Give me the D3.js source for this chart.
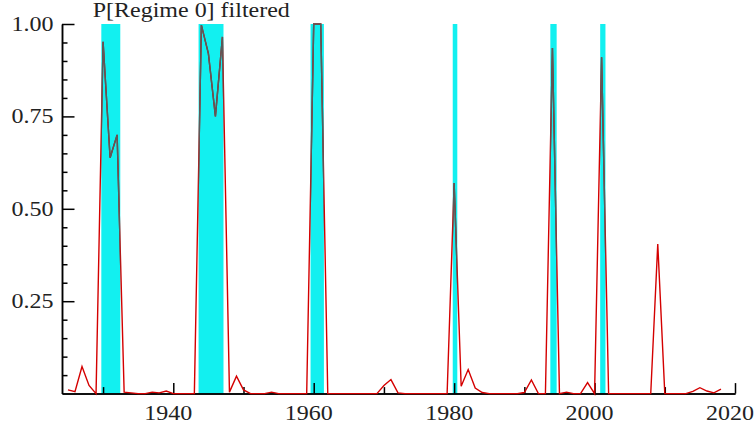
<!DOCTYPE html>
<html><head><meta charset="utf-8">
<script src="https://cdn.jsdelivr.net/npm/d3@7"></script>
<style>html,body{margin:0;padding:0;background:#fff;} svg{display:block;}</style>
</head><body>
<svg id="chart" width="756" height="430"></svg>
<script>
// ---- data ----
const years = [
  1925,1926,1927,1928,1929,1930,1931,1932,1933,1934,
  1935,1936,1937,1938,1939,1940,1941,1942,1943,1944,
  1945,1946,1947,1948,1949,1950,1951,1952,1953,1954,
  1955,1956,1957,1958,1959,1960,1961,1962,1963,1964,
  1965,1966,1967,1968,1969,1970,1971,1972,1973,1974,
  1975,1976,1977,1978,1979,1980,1981,1982,1983,1984,
  1985,1986,1987,1988,1989,1990,1991,1992,1993,1994,
  1995,1996,1997,1998,1999,2000,2001,2002,2003,2004,
  2005,2006,2007,2008,2009,2010,2011,2012,2013,2014,
  2015,2016,2017,2018];
const pRegime0 = [
  0.010,0.005,0.073,0.022,0.000,0.952,0.638,0.700,0.004,0.002,
  0.000,0.000,0.004,0.002,0.007,0.000,0.000,0.000,0.000,0.997,
  0.920,0.750,0.965,0.004,0.047,0.010,0.000,0.000,0.000,0.004,
  0.000,0.000,0.000,0.000,0.000,1.000,1.000,0.000,0.000,0.000,
  0.000,0.000,0.000,0.000,0.000,0.022,0.038,0.002,0.000,0.000,
  0.000,0.000,0.000,0.000,0.000,0.570,0.020,0.065,0.015,0.003,
  0.000,0.000,0.000,0.000,0.000,0.003,0.037,0.000,0.000,0.935,
  0.000,0.004,0.000,0.000,0.030,0.000,0.910,0.000,0.000,0.000,
  0.000,0.000,0.000,0.000,0.405,0.000,0.000,0.000,0.000,0.006,
  0.016,0.007,0.002,0.012];
// regime 0 shaded periods (years)
const shadeStart = [1929.75, 1943.6, 1959.55, 1979.8, 1993.7, 2000.8];
const shadeEnd   = [1932.45, 1947.15, 1961.45, 1980.45, 1994.6, 2001.55];
// ticks
const xMajorTicks = [1940, 1960, 1980, 2000, 2020];
const xMinorTicks = [1930, 1950, 1970, 1990, 2010];
const yMajorTicks = [0.25, 0.50, 0.75, 1.00];
const yTickLabels = ["0.25", "0.50", "0.75", "1.00"];
const yMinorTicks = [0.05,0.10,0.15,0.20,0.30,0.35,0.40,0.45,0.55,0.60,0.65,0.70,0.80,0.85,0.90,0.95];
const title = "P[Regime 0] filtered";

// ---- layout ----
const svg = d3.select("#chart");
const L = 62, R = 735, T = 24, B = 393.6;
const x = d3.scaleLinear().domain([1924.15, 2020]).range([L, R]);
const y = d3.scaleLinear().domain([0, 1]).range([B, T]);
const FONT = "'Liberation Serif','Times New Roman',serif";
const SX = 1.2;

// shading
const shades = shadeStart.map((s, i) => ({s, e: shadeEnd[i]}));
svg.append("g").selectAll("rect").data(shades).join("rect")
  .attr("x", d => x(d.s)).attr("width", d => x(d.e) - x(d.s))
  .attr("y", y(1)).attr("height", y(0) - y(1))
  .attr("fill", "#12f0f0");

// clip for overlay
const clip = svg.append("defs").append("clipPath").attr("id", "shadeClip");
clip.selectAll("rect").data(shades).join("rect")
  .attr("x", d => x(d.s)).attr("width", d => x(d.e) - x(d.s))
  .attr("y", y(1) - 2).attr("height", y(0) - y(1) + 4);

// axes
const axStyle = g => {
  g.selectAll("path,line").attr("stroke", "#000").attr("stroke-width", 1.5);
  g.selectAll("text").remove();
};
svg.append("g").attr("transform", `translate(0,${B})`)
  .call(d3.axisBottom(x).tickValues(xMinorTicks).tickSize(-6.5).tickSizeOuter(0).tickFormat(""))
  .call(axStyle);
svg.append("g").attr("transform", `translate(0,${B})`)
  .call(d3.axisBottom(x).tickValues(xMajorTicks).tickSize(-10.5).tickSizeOuter(0).tickFormat(""))
  .call(axStyle);
svg.append("g").attr("transform", `translate(${L},0)`)
  .call(d3.axisLeft(y).tickValues(yMinorTicks).tickSize(-5.5).tickSizeOuter(0).tickFormat(""))
  .call(axStyle);
svg.append("g").attr("transform", `translate(${L},0)`)
  .call(d3.axisLeft(y).tickValues(yMajorTicks).tickSize(-12.5).tickSizeOuter(0).tickFormat(""))
  .call(axStyle);

// labels
svg.append("g").selectAll("text").data(yMajorTicks).join("text")
  .attr("transform", d => `translate(${L - 8.5},${y(d) + 7}) scale(${SX},1)`)
  .attr("text-anchor", "end").attr("font-family", FONT).attr("font-size", 20)
  .attr("fill", "#222").text((d, i) => yTickLabels[i]);
svg.append("g").selectAll("text").data(xMajorTicks).join("text")
  .attr("transform", d => `translate(${x(d) - 5},420) scale(${SX},1)`)
  .attr("text-anchor", "middle").attr("font-family", FONT).attr("font-size", 20)
  .attr("fill", "#222").text(d => d);
svg.append("text")
  .attr("transform", `translate(92.7,17) scale(${SX},1)`)
  .attr("font-family", FONT).attr("font-size", 20).attr("fill", "#222")
  .text(title);

// line
const pts = years.map((yr, i) => [yr, pRegime0[i]]);
const line = d3.line().x(d => x(d[0])).y(d => y(d[1]));
svg.append("path").attr("d", line(pts)).attr("fill", "none")
  .attr("stroke", "#d40000").attr("stroke-width", 1.4).attr("stroke-linejoin", "miter");
svg.append("path").attr("d", line(pts)).attr("fill", "none")
  .attr("clip-path", "url(#shadeClip)")
  .attr("stroke", "#5a5a5a").attr("stroke-width", 1.4);
</script>
</body></html>
